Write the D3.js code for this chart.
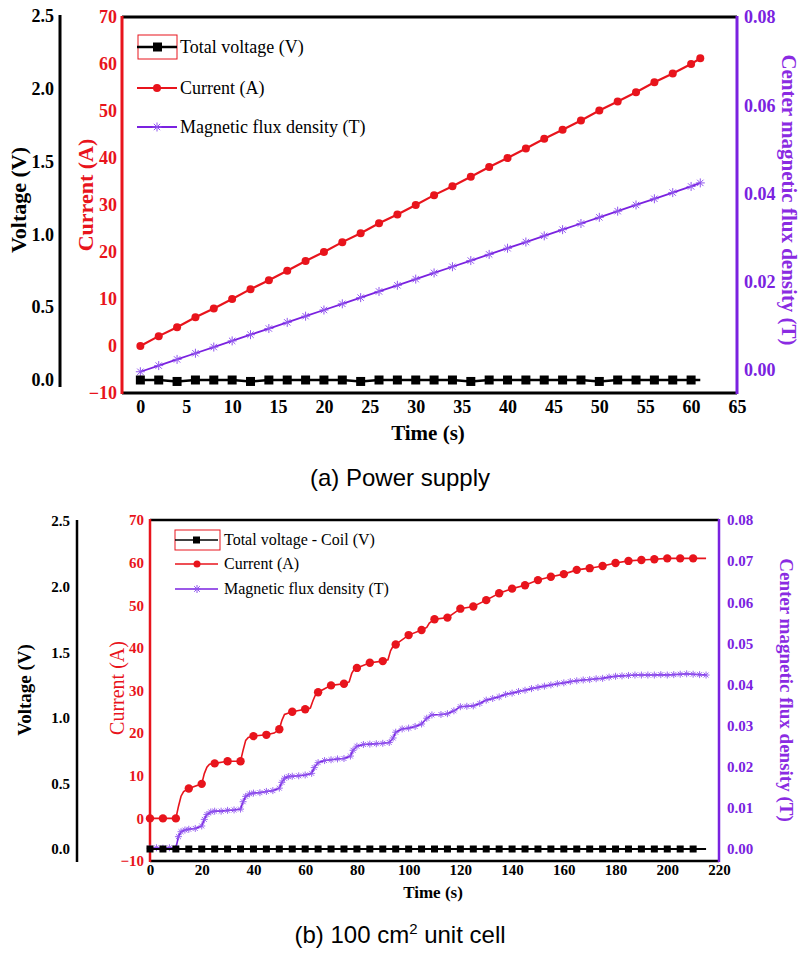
<!DOCTYPE html>
<html><head><meta charset="utf-8">
<script src="https://cdn.jsdelivr.net/npm/d3@7"></script>
<style>body{margin:0;background:#fff}svg{display:block}</style>
</head><body>
<svg id="c" width="800" height="954"></svg>
<script>
// ---------- DATA (a) Power supply ----------
const timeA = [0,2,4,6,8,10,12,14,16,18,20,22,24,26,28,30,32,34,36,38,40,42,44,46,48,50,52,54,56,58,60,61];
const voltageA = [0,0,-0.01,0,0,0,-0.01,0,0,0,0,0,-0.01,0,0,0,0,0,-0.01,0,0,0,0,0,0,-0.01,0,0,0,0,0,0];
const currentA = [0,2.1,4.0,6.1,8.0,10.0,12.1,14.0,16.0,18.1,20.0,22.1,24.0,26.1,28.0,30.0,32.1,34.0,36.0,38.1,40.0,42.0,44.1,46.0,48.0,50.1,52.0,54.0,56.1,58.0,60.0,61.2];
const fluxA = [-0.0004,0.0010,0.0024,0.0038,0.0052,0.0066,0.0080,0.0094,0.0108,0.0122,0.0136,0.0150,0.0164,0.0178,0.0192,0.0206,0.0220,0.0234,0.0248,0.0262,0.0276,0.0290,0.0304,0.0318,0.0332,0.0346,0.0360,0.0374,0.0388,0.0402,0.0416,0.0424];

// ---------- DATA (b) 100 cm2 unit cell ----------
const timeBV = [0,5,10,15,20,25,30,35,40,45,50,55,60,65,70,75,80,85,90,95,100,105,110,115,120,125,130,135,140,145,150,155,160,165,170,175,180,185,190,195,200,205,210,215];
const voltageB = [0,0,0,0,0,0,0,0,0,0,0,0,0,0,0,0,0,0,0,0,0,0,0,0,0,0,0,0,0,0,0,0,0,0,0,0,0,0,0,0,0,0,0,0];
const timeBI = [0,5,10,11,12,13,15,20,21,22,23,25,30,35,36,37,38,40,45,48,50,51,52,55,60,62,63,64,65,70,75,77,78,79,80,85,90,92,93,94,95,100,105,107,108,110,115,120,125,130,135,140,145,150,155,160,165,170,175,180,185,190,195,200,205,210,215];
const currentB = [0,0,0,2.8,5.2,6.3,7.0,8.1,10.5,12.0,12.7,12.9,13.4,13.4,16.0,18.3,19.0,19.3,19.6,20.0,20.9,23.0,24.4,25.0,25.6,25.9,27.6,29.0,29.6,31.2,31.6,32.0,34.0,35.0,35.3,36.5,36.9,37.2,39.3,40.4,40.8,43.0,44.2,44.8,45.8,46.7,47.1,49.2,49.7,51.2,52.8,53.9,54.7,55.9,56.7,57.3,58.3,58.7,59.2,59.9,60.4,60.6,60.8,61.0,61.0,61.0,61.0];
const currentBMarkTimes = [0,5,10,15,20,25,30,35,40,45,50,55,60,65,70,75,80,85,90,95,100,105,110,115,120,125,130,135,140,145,150,155,160,165,170,175,180,185,190,195,200,205,210];
const timeBB = [0,2.5,5,7.5,10,11,12,13.5,15,17.5,20,21,22,23.5,25,27.5,30,32.5,35,36,37,38.5,40,42.5,45,47.5,50,51,52,53.5,55,57.5,60,62.5,63.5,65,67.5,70,72.5,75,77.5,78.5,80,82.5,85,87.5,90,92.5,94,95,97.5,100,102.5,105,107,109,112.5,115,117.5,120,122.5,125,127.5,130,132.5,135,137.5,140,142.5,145,147.5,150,152.5,155,157.5,160,162.5,165,167.5,170,172.5,175,177.5,180,182.5,185,187.5,190,192.5,195,197.5,200,202.5,205,207.5,210,212.5,215];
const fluxB = [0.0002,0.0003,0.0002,0.0003,0.0002,0.0030,0.0042,0.0046,0.0048,0.0050,0.0056,0.0072,0.0084,0.0090,0.0092,0.0092,0.0094,0.0095,0.0097,0.0115,0.0128,0.0134,0.0136,0.0137,0.0140,0.0142,0.0148,0.0162,0.0172,0.0176,0.0177,0.0178,0.0180,0.0184,0.0198,0.0210,0.0215,0.0217,0.0219,0.0220,0.0226,0.0240,0.0250,0.0254,0.0255,0.0256,0.0257,0.0259,0.0270,0.0284,0.0292,0.0294,0.0298,0.0304,0.0318,0.0326,0.0327,0.0329,0.0336,0.0346,0.0347,0.0348,0.0354,0.0362,0.0366,0.0370,0.0376,0.0379,0.0383,0.0386,0.0390,0.0393,0.0396,0.0399,0.0402,0.0404,0.0407,0.0409,0.0411,0.0412,0.0414,0.0415,0.0418,0.0420,0.0421,0.0422,0.0423,0.0423,0.0423,0.0423,0.0424,0.0423,0.0424,0.0425,0.0426,0.0425,0.0424,0.0423];

// ---------- TICKS / LABELS ----------
const voltTicks = [0,0.5,1.0,1.5,2.0,2.5];
const currTicks = [-10,0,10,20,30,40,50,60,70];
const timeTicksA = [0,5,10,15,20,25,30,35,40,45,50,55,60,65];
const timeTicksB = [0,20,40,60,80,100,120,140,160,180,200,220];
const fluxTicksA = [0,0.02,0.04,0.06,0.08];
const fluxTicksB = [0,0.01,0.02,0.03,0.04,0.05,0.06,0.07,0.08];
const legendA = ["Total voltage (V)","Current (A)","Magnetic flux density (T)"];
const legendB = ["Total voltage - Coil (V)","Current (A)","Magnetic flux density (T)"];

const RED = "#e8141c", PUR = "#7a22e0", PURT = "#8a2be2", AST = "#9055ee";
const SERIF = "'Liberation Serif','Times New Roman',serif";
const svg = d3.select("#c");

function axisStyle(g, color, size, weight){
  g.select(".domain").remove();
  g.selectAll("text").attr("fill", color).style("font-family", SERIF)
    .style("font-size", size+"px").style("font-weight", weight);
}
function asterisk(g, x, y, r, color, w){
  for (let k=0;k<4;k++){
    const a = k*Math.PI/4;
    g.append("line").attr("x1",x-r*Math.cos(a)).attr("y1",y-r*Math.sin(a))
      .attr("x2",x+r*Math.cos(a)).attr("y2",y+r*Math.sin(a))
      .attr("stroke",color).attr("stroke-width",w);
  }
}

// ================= (a) =================
{
  const x = d3.scaleLinear().domain([-2,65]).range([122,737]);
  const yI = d3.scaleLinear().domain([-10,70]).range([393,17]);
  const yV = d3.scaleLinear().domain([0,2.5]).range([380,16]);
  const yB = d3.scaleLinear().domain([0,0.08]).range([370,17]);
  const g = svg.append("g");
  const fs = 18;

  g.append("line").attr("x1",x.range()[0]).attr("x2",x.range()[1]).attr("y1",17).attr("y2",17).attr("stroke","#000").attr("stroke-width",3);
  g.append("line").attr("x1",x.range()[0]).attr("x2",x.range()[1]).attr("y1",393).attr("y2",393).attr("stroke","#000").attr("stroke-width",3);
  g.append("line").attr("x1",122).attr("x2",122).attr("y1",16).attr("y2",394).attr("stroke",RED).attr("stroke-width",3);
  g.append("line").attr("x1",737).attr("x2",737).attr("y1",16).attr("y2",394).attr("stroke",PUR).attr("stroke-width",3);
  g.append("line").attr("x1",60).attr("x2",60).attr("y1",15).attr("y2",387).attr("stroke","#000").attr("stroke-width",3);

  const ax1 = g.append("g").attr("transform","translate(60,0)")
    .call(d3.axisLeft(yV).tickValues(voltTicks).tickFormat(d3.format(".1f")).tickSize(0).tickPadding(6));
  axisStyle(ax1,"#000",fs,"bold");
  const ax2 = g.append("g").attr("transform","translate(122,0)")
    .call(d3.axisLeft(yI).tickValues(currTicks).tickSize(0).tickPadding(5));
  axisStyle(ax2,RED,fs,"bold");
  const ax3 = g.append("g").attr("transform","translate(0,393)")
    .call(d3.axisBottom(x).tickValues(timeTicksA).tickSize(0).tickPadding(7));
  axisStyle(ax3,"#000",fs,"bold");
  const ax4 = g.append("g").attr("transform","translate(737,0)")
    .call(d3.axisRight(yB).tickValues(fluxTicksA).tickFormat(d3.format(".2f")).tickSize(0).tickPadding(7));
  axisStyle(ax4,PUR,fs,"bold");

  g.append("text").attr("transform","translate(26,200) rotate(-90)").attr("text-anchor","middle")
    .style("font-family",SERIF).style("font-size","22px").style("font-weight","bold").text("Voltage (V)");
  g.append("text").attr("transform","translate(93,195) rotate(-90)").attr("text-anchor","middle").attr("fill",RED)
    .style("font-family",SERIF).style("font-size","22px").style("font-weight","bold").text("Current (A)");
  g.append("text").attr("transform","translate(782,200) rotate(90)").attr("text-anchor","middle").attr("fill",PURT)
    .style("font-family",SERIF).style("font-size","21px").style("font-weight","bold").text("Center magnetic flux density (T)");
  g.append("text").attr("x",428).attr("y",440).attr("text-anchor","middle")
    .style("font-family",SERIF).style("font-size","21px").style("font-weight","bold").text("Time (s)");
  g.append("text").attr("x",400).attr("y",486).attr("text-anchor","middle")
    .style("font-family","'Liberation Sans',Arial,sans-serif").style("font-size","24px").text("(a) Power supply");

  const idx = d3.range(timeA.length);
  g.append("path").attr("d", d3.line().x(i=>x(timeA[i])).y(i=>yB(fluxA[i]))(idx))
    .attr("fill","none").attr("stroke",PUR).attr("stroke-width",1.8);
  idx.forEach(i=>asterisk(g, x(timeA[i]), yB(fluxA[i]), 4.5, AST, 1));
  g.append("path").attr("d", d3.line().x(i=>x(timeA[i])).y(i=>yI(currentA[i]))(idx))
    .attr("fill","none").attr("stroke",RED).attr("stroke-width",2.2);
  g.selectAll(".ca").data(idx).enter().append("circle").attr("cx",i=>x(timeA[i])).attr("cy",i=>yI(currentA[i])).attr("r",4).attr("fill",RED);
  g.append("path").attr("d", d3.line().x(i=>x(timeA[i])).y(i=>yV(voltageA[i]))(idx))
    .attr("fill","none").attr("stroke","#000").attr("stroke-width",2.5);
  g.selectAll(".va").data(idx.slice(0,-1)).enter().append("rect").attr("x",i=>x(timeA[i])-4.5).attr("y",i=>yV(voltageA[i])-4.5).attr("width",9).attr("height",9).attr("fill","#000");

  const lg = g.append("g");
  const ly = [47,88,127];
  lg.append("rect").attr("x",138).attr("y",35).attr("width",39).attr("height",24).attr("fill","none").attr("stroke",RED).attr("stroke-width",1);
  const cols = ["#000",RED,PUR];
  ly.forEach((yy,k)=>{
    lg.append("line").attr("x1",137).attr("x2",177).attr("y1",yy).attr("y2",yy).attr("stroke",cols[k]).attr("stroke-width",k==0?2.5:2);
    if(k==0) lg.append("rect").attr("x",153).attr("y",yy-4.5).attr("width",9).attr("height",9).attr("fill","#000");
    if(k==1) lg.append("circle").attr("cx",157).attr("cy",yy).attr("r",4).attr("fill",RED);
    if(k==2) asterisk(lg,157,yy,4.5,AST,1);
    lg.append("text").attr("x",180).attr("y",yy+6).style("font-family",SERIF).style("font-size","18px").text(legendA[k]);
  });
}

// ================= (b) =================
{
  const x = d3.scaleLinear().domain([0,220]).range([150,719]);
  const yI = d3.scaleLinear().domain([-10,70]).range([861,520]);
  const yV = d3.scaleLinear().domain([0,2.5]).range([849,521]);
  const yB = d3.scaleLinear().domain([0,0.08]).range([849,520]);
  const g = svg.append("g");
  const fs = 15;

  g.append("line").attr("x1",150).attr("x2",719).attr("y1",520).attr("y2",520).attr("stroke","#000").attr("stroke-width",2.5);
  g.append("line").attr("x1",150).attr("x2",719).attr("y1",861).attr("y2",861).attr("stroke","#000").attr("stroke-width",2.5);
  g.append("line").attr("x1",150).attr("x2",150).attr("y1",519).attr("y2",862).attr("stroke",RED).attr("stroke-width",2.5);
  g.append("line").attr("x1",719).attr("x2",719).attr("y1",519).attr("y2",862).attr("stroke",PUR).attr("stroke-width",2.5);
  g.append("line").attr("x1",77).attr("x2",77).attr("y1",520).attr("y2",862).attr("stroke","#000").attr("stroke-width",2.5);

  const ax1 = g.append("g").attr("transform","translate(77,0)")
    .call(d3.axisLeft(yV).tickValues(voltTicks).tickFormat(d3.format(".1f")).tickSize(0).tickPadding(7));
  axisStyle(ax1,"#000",fs,"bold");
  const ax2 = g.append("g").attr("transform","translate(150,0)")
    .call(d3.axisLeft(yI).tickValues(currTicks).tickSize(0).tickPadding(6));
  axisStyle(ax2,RED,fs,"bold");
  const ax3 = g.append("g").attr("transform","translate(0,861)")
    .call(d3.axisBottom(x).tickValues(timeTicksB).tickSize(0).tickPadding(3));
  axisStyle(ax3,"#000",fs,"bold");
  const ax4 = g.append("g").attr("transform","translate(719,0)")
    .call(d3.axisRight(yB).tickValues(fluxTicksB).tickFormat(d3.format(".2f")).tickSize(0).tickPadding(8));
  axisStyle(ax4,PUR,fs,"bold");

  g.append("text").attr("transform","translate(31,690) rotate(-90)").attr("text-anchor","middle")
    .style("font-family",SERIF).style("font-size","19px").style("font-weight","bold").text("Voltage (V)");
  g.append("text").attr("transform","translate(124,688) rotate(-90)").attr("text-anchor","middle").attr("fill",RED)
    .style("font-family",SERIF).style("font-size","20px").text("Current (A)");
  g.append("text").attr("transform","translate(780,690) rotate(90)").attr("text-anchor","middle").attr("fill",PURT)
    .style("font-family",SERIF).style("font-size","19px").style("font-weight","bold").text("Center magnetic flux density (T)");
  g.append("text").attr("x",433).attr("y",898).attr("text-anchor","middle")
    .style("font-family",SERIF).style("font-size","17px").style("font-weight","bold").text("Time (s)");
  const cap = g.append("text").attr("x",400).attr("y",943).attr("text-anchor","middle")
    .style("font-family","'Liberation Sans',Arial,sans-serif").style("font-size","24px");
  cap.append("tspan").text("(b) 100 cm");
  cap.append("tspan").attr("dy",-9).style("font-size","15px").text("2");
  cap.append("tspan").attr("dy",9).text(" unit cell");

  const ib = d3.range(timeBB.length);
  g.append("path").attr("d", d3.line().x(i=>x(timeBB[i])).y(i=>yB(fluxB[i]))(ib))
    .attr("fill","none").attr("stroke",PUR).attr("stroke-width",1.6);
  ib.forEach(i=>asterisk(g, x(timeBB[i]), yB(fluxB[i]), 3.5, AST, 0.9));
  const ic = d3.range(timeBI.length);
  g.append("path").attr("d", d3.line().x(i=>x(timeBI[i])).y(i=>yI(currentB[i]))(ic))
    .attr("fill","none").attr("stroke",RED).attr("stroke-width",1.6);
  const mk = ic.filter(i=>currentBMarkTimes.includes(timeBI[i]));
  g.selectAll(".cb").data(mk).enter().append("circle").attr("cx",i=>x(timeBI[i])).attr("cy",i=>yI(currentB[i])).attr("r",4.2).attr("fill",RED);
  const iv = d3.range(timeBV.length);
  g.append("path").attr("d", d3.line().x(i=>x(timeBV[i])).y(i=>yV(voltageB[i]))(iv))
    .attr("fill","none").attr("stroke","#000").attr("stroke-width",2);
  g.selectAll(".vb").data(iv.slice(0,-1)).enter().append("rect").attr("x",i=>x(timeBV[i])-3.5).attr("y",i=>yV(voltageB[i])-3.5).attr("width",7).attr("height",7).attr("fill","#000");

  const lg = g.append("g");
  const ly = [540,564,589];
  lg.append("rect").attr("x",175).attr("y",530).attr("width",45).attr("height",20).attr("fill","none").attr("stroke",RED).attr("stroke-width",1);
  const cols = ["#000",RED,PUR];
  ly.forEach((yy,k)=>{
    lg.append("line").attr("x1",175).attr("x2",218).attr("y1",yy).attr("y2",yy).attr("stroke",cols[k]).attr("stroke-width",1.6);
    if(k==0) lg.append("rect").attr("x",193).attr("y",yy-3.5).attr("width",7).attr("height",7).attr("fill","#000");
    if(k==1) lg.append("circle").attr("cx",197).attr("cy",yy).attr("r",3.5).attr("fill",RED);
    if(k==2) asterisk(lg,197,yy,4,AST,1);
    lg.append("text").attr("x",224).attr("y",yy+5).style("font-family",SERIF).style("font-size","16px").text(legendB[k]);
  });
}
</script>
</body></html>
